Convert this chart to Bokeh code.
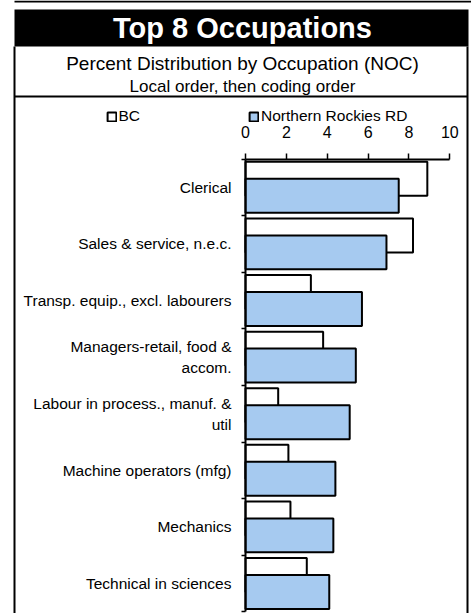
import numpy as np
from bokeh.plotting import figure
from bokeh.models import (Range1d, LinearAxis, FixedTicker, Legend, LegendItem,
                          Label, BoxAnnotation)
from bokeh.embed import file_html
from bokeh.resources import INLINE

# ---------------- data ----------------
occupations = ["Clerical", "Sales & service, n.e.c.", "Transp. equip., excl. labourers",
               "Managers-retail, food &\naccom.", "Labour in process., manuf. &\nutil",
               "Machine operators (mfg)", "Mechanics", "Technical in sciences"]
bc = [8.9, 8.2, 3.2, 3.8, 1.6, 2.1, 2.2, 3.0]
northern_rockies = [7.5, 6.9, 5.7, 5.4, 5.1, 4.4, 4.3, 4.1]
x_ticks = [0, 2, 4, 6, 8, 10]
series_names = ["BC", "Northern Rockies RD"]
title_text = "Top 8 Occupations"
subtitle1 = "Percent Distribution by Occupation (NOC)"
subtitle2 = "Local order, then coding order"

# ---------------- layout helpers (pixel -> data) ----------------
W, H = 471, 613
X0, SX = 245.0, 20.43     # pixel of 0 %, pixels per %
Y0, SY = 158.5, 56.6      # pixel of top of first category, pixels per category
FONT = "Liberation Sans"
FS = "15.5px"


def dx(px):
    return (px - X0) / SX


def dy(py):
    return (py - Y0) / SY


n = len(occupations)
p = figure(width=W, height=H, output_backend="svg", toolbar_location=None,
           x_range=Range1d(dx(0), dx(W)), y_range=Range1d(dy(H), dy(0)),
           min_border=0, x_axis_type=None, y_axis_type=None, title_location=None)
p.grid.visible = False
p.outline_line_color = None
p.background_fill_color = "white"
p.border_fill_color = "white"

# title band and boxes
p.add_layout(BoxAnnotation(left=dx(14), right=dx(468), top=dy(9), bottom=dy(46),
                           fill_color="black", fill_alpha=1, line_color=None))
p.segment(x0=[dx(14), dx(14), dx(467), dx(14)], y0=[dy(1), dy(46), dy(46), dy(96)],
          x1=[dx(W), dx(14), dx(467), dx(467)], y1=[dy(1), dy(H + 5), dy(H + 5), dy(96)],
          line_color="black", line_width=2)

p.add_layout(Label(x=dx(242), y=dy(27.5), text=title_text, text_align="center",
                   text_baseline="middle", text_color="white", text_font=FONT,
                   text_font_style="bold", text_font_size="29px"))
p.add_layout(Label(x=dx(242), y=dy(62.5), text=subtitle1, text_align="center",
                   text_baseline="middle", text_color="black", text_font=FONT,
                   text_font_size="19px"))
p.add_layout(Label(x=dx(242), y=dy(86), text=subtitle2, text_align="center",
                   text_baseline="middle", text_color="black", text_font=FONT,
                   text_font_size="17px"))

# bars
ypos = np.arange(n) + 0.5
r_bc = p.hbar(y=ypos - 0.15, left=0, right=bc, height=0.6, fill_color="white",
              line_color="black", line_width=2)
r_nr = p.hbar(y=ypos + 0.15, left=0, right=northern_rockies, height=0.6,
              fill_color="#A6CAF0", line_color="black", line_width=2)

# x axis (on top)
xaxis = LinearAxis(fixed_location=0, bounds=(0, 10), ticker=FixedTicker(ticks=x_ticks))
xaxis.major_tick_out = 6
xaxis.major_tick_in = 0
xaxis.minor_tick_out = 0
xaxis.minor_tick_in = 0
xaxis.axis_line_width = 2
xaxis.major_tick_line_width = 1.5
xaxis.major_label_text_font = FONT
xaxis.major_label_text_font_size = "16px"
xaxis.major_label_text_color = "black"
xaxis.major_label_standoff = 15
p.add_layout(xaxis, "above")

# y axis (categories)
yaxis = LinearAxis(fixed_location=0, bounds=(0, n),
                   ticker=FixedTicker(ticks=list(ypos), minor_ticks=list(range(n + 1))))
yaxis.major_label_overrides = {float(v): lab for v, lab in zip(ypos, occupations)}
yaxis.major_tick_out = 0
yaxis.major_tick_in = 0
yaxis.minor_tick_out = 4
yaxis.minor_tick_in = 0
yaxis.minor_tick_line_width = 1.5
yaxis.axis_line_width = 2
yaxis.major_label_text_font = FONT
yaxis.major_label_text_font_size = FS
yaxis.major_label_text_color = "black"
yaxis.major_label_text_line_height = 1.25
yaxis.major_label_standoff = 10
p.add_layout(yaxis, "left")

# legends
for r, name, lx in [(r_bc, series_names[0], 105.5), (r_nr, series_names[1], 248.0)]:
    leg = Legend(items=[LegendItem(label=name, renderers=[r])], location=(lx, H - 125),
                 orientation="horizontal", padding=0, margin=0, spacing=0,
                 glyph_width=11, glyph_height=11, label_height=11, label_standoff=2,
                 label_text_font=FONT, label_text_font_size=FS,
                 label_text_color="black", label_text_baseline="middle",
                 border_line_color=None, background_fill_alpha=0)
    p.add_layout(leg)

open("out.html", "w").write(file_html(p, INLINE))
